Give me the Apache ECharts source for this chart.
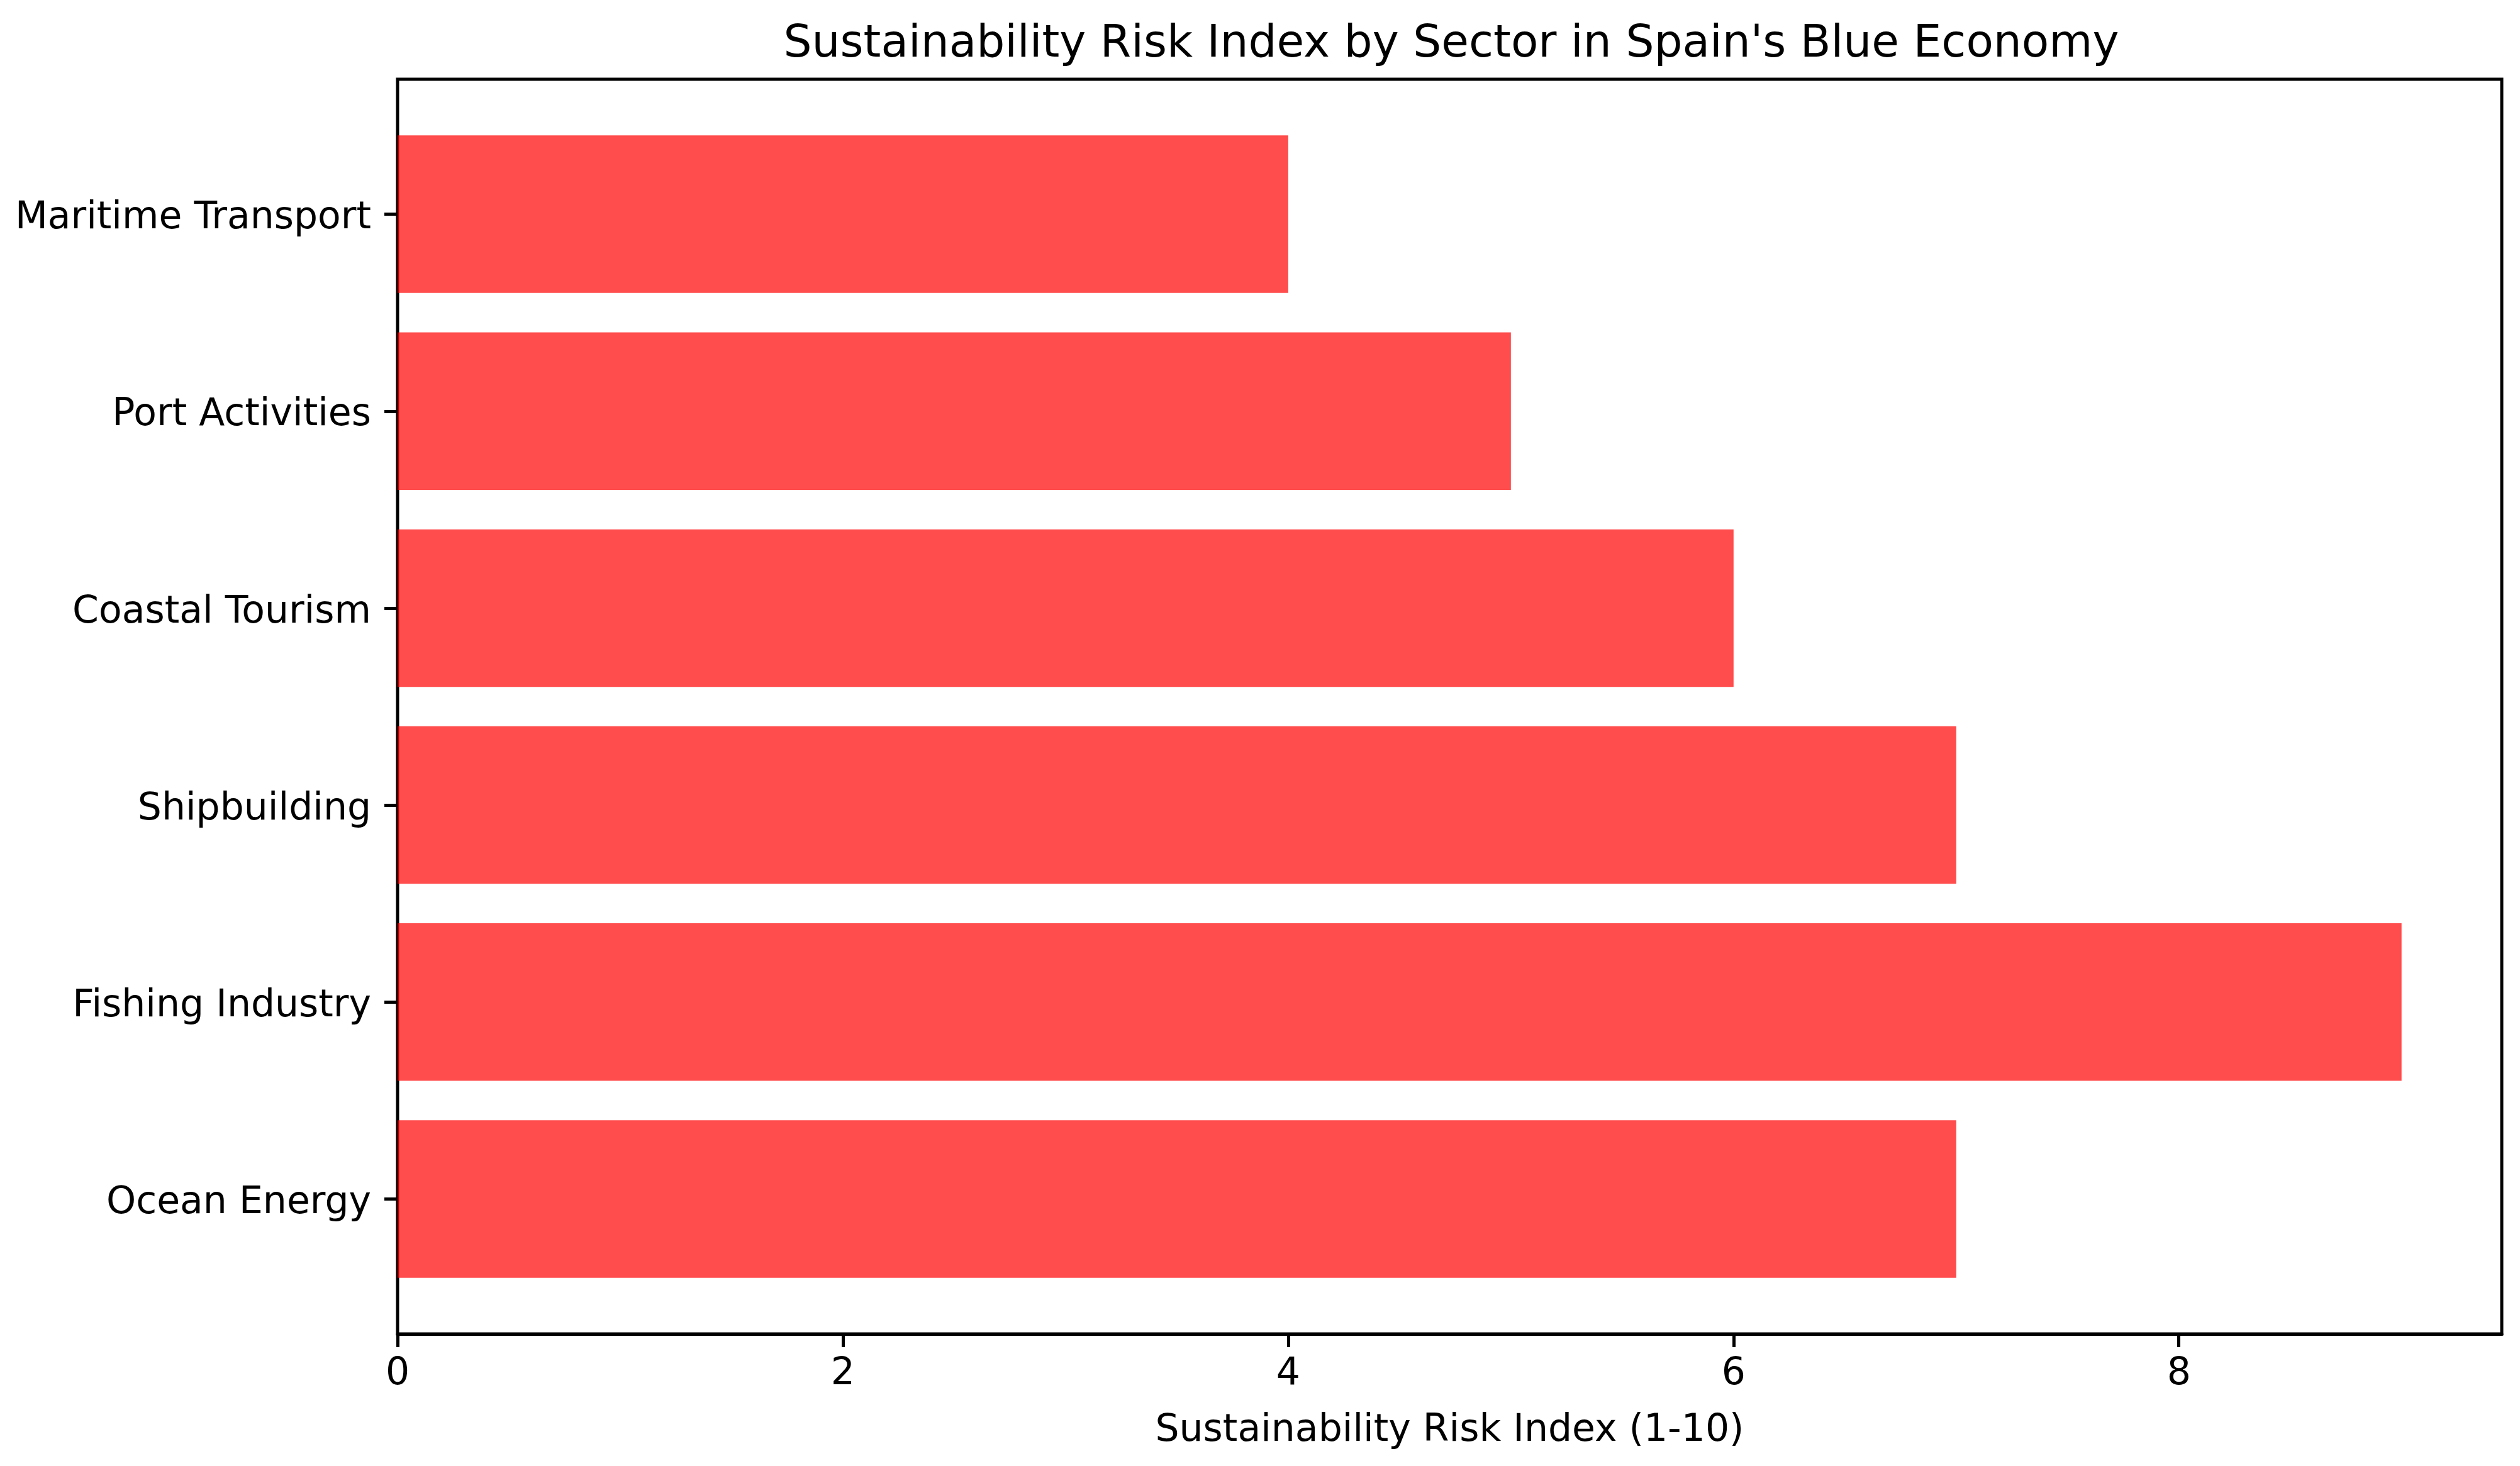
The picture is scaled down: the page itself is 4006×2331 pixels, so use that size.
<!DOCTYPE html>
<html>
<head>
<meta charset="utf-8">
<script src="https://cdn.jsdelivr.net/npm/echarts@6/dist/echarts.min.js"></script>
<style>
html,body{margin:0;padding:0;background:#fff;}
#chart{width:4006px;height:2331px;}
</style>
</head>
<body>
<div id="chart"></div>
<script>
// Data (top-to-bottom reading order)
const sectors = ['Maritime Transport', 'Port Activities', 'Coastal Tourism', 'Shipbuilding', 'Fishing Industry', 'Ocean Energy'];
const riskIndex = [4, 5, 6, 7, 9, 7];
const xTicks = [0, 2, 4, 6, 8];
const xMax = 9.45;

const FONT = 'DejaVu Sans';
const chart = echarts.init(document.getElementById('chart'), null, {renderer: 'canvas'});

const option = {
  backgroundColor: '#ffffff',
  animation: false,
  title: {
    text: "Sustainability Risk Index by Sector in Spain's Blue Economy",
    left: 2302,
    top: 31,
    textAlign: 'center',
    textStyle: {fontFamily: FONT, fontSize: 71, fontWeight: 'normal', color: '#000'}
  },
  grid: [
    {left: 632, right: 29, top: 126, bottom: 210, show: true, borderColor: '#000', borderWidth: 5, backgroundColor: 'transparent'},
    {left: 632, right: 29, top: 184, bottom: 268}
  ],
  xAxis: [
    {
      gridIndex: 0, type: 'value', min: 0, max: xMax,
      axisLine: {show: true, lineStyle: {color: '#000', width: 5}},
      axisTick: {show: true, length: 21, lineStyle: {color: '#000', width: 5}, customValues: xTicks},
      axisLabel: {show: true, fontFamily: FONT, fontSize: 60, color: '#000', margin: 34, customValues: xTicks},
      splitLine: {show: false},
      name: 'Sustainability Risk Index (1-10)',
      nameLocation: 'middle',
      nameGap: 124,
      nameTextStyle: {fontFamily: FONT, fontSize: 60, color: '#000'}
    },
    {gridIndex: 1, type: 'value', min: 0, max: xMax, show: false}
  ],
  yAxis: [
    {gridIndex: 0, type: 'value', show: false},
    {
      gridIndex: 1, type: 'category', data: sectors, inverse: true,
      axisLine: {show: false},
      axisTick: {show: true, alignWithLabel: true, length: 21, lineStyle: {color: '#000', width: 5}},
      axisLabel: {
        margin: 42,
        formatter: function (v) { return '{a|' + v + '}'; },
        rich: {a: {fontFamily: FONT, fontSize: 60, color: '#000', padding: [14, 0, 0, 0]}}
      },
      splitLine: {show: false}
    }
  ],
  series: [{
    type: 'bar',
    xAxisIndex: 1,
    yAxisIndex: 1,
    data: riskIndex,
    barWidth: '80%',
    itemStyle: {color: 'rgba(255,0,0,0.7)'}
  }]
};
chart.setOption(option);
</script>
</body>
</html>
